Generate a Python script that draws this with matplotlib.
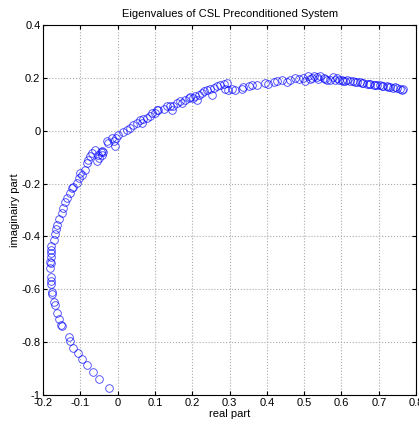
import matplotlib.pyplot as plt

plt.rcParams['font.family'] = ['Liberation Sans', 'DejaVu Sans']

# Eigenvalues (real, imaginary)
real_part = [
    -0.024, -0.050, -0.065, -0.083, -0.096, -0.107, -0.119, -0.128, -0.132,
    -0.149, -0.151, -0.157, -0.162, -0.168, -0.171, -0.175, -0.176, -0.179,
    -0.180, -0.180, -0.181, -0.180, -0.181, -0.180, -0.179, -0.180, -0.178,
    -0.172, -0.168, -0.165, -0.163, -0.157, -0.150, -0.147, -0.141, -0.136,
    -0.128, -0.123, -0.119, -0.110, -0.105, -0.101, -0.096, -0.087, -0.083,
    -0.079, -0.074, -0.069, -0.061, -0.052, -0.045, -0.042, -0.039, -0.056,
    -0.049, -0.043, -0.029, -0.025, -0.016, -0.011, -0.006, -0.007, 0.002,
    0.015, 0.024, 0.033, 0.042, 0.051, 0.060, 0.065, 0.069, 0.078, 0.087,
    0.091, 0.100, 0.105, 0.109, 0.123, 0.131, 0.140, 0.145, 0.149, 0.158,
    0.167, 0.172, 0.181, 0.190, 0.194, 0.203, 0.208, 0.212, 0.217, 0.226,
    0.230, 0.239, 0.248, 0.252, 0.257, 0.266, 0.275, 0.284, 0.288, 0.293,
    0.297, 0.306, 0.315, 0.333, 0.337, 0.351, 0.360, 0.373, 0.395, 0.404,
    0.418, 0.426, 0.440, 0.453, 0.462, 0.476, 0.485, 0.498, 0.511, 0.516,
    0.525, 0.534, 0.543, 0.552, 0.561, 0.569, 0.578, 0.587, 0.592, 0.601,
    0.605, 0.614, 0.623, 0.632, 0.641, 0.650, 0.659, 0.668, 0.677, 0.686,
    0.695, 0.703, 0.712, 0.721, 0.730, 0.739, 0.748, 0.757, 0.766,
    0.503, 0.520, 0.538, 0.556, 0.583, 0.610, 0.637, 0.655, 0.673, 0.691,
    0.708, 0.726, 0.744, 0.762,
]
imag_part = [
    -0.972, -0.938, -0.915, -0.888, -0.865, -0.842, -0.821, -0.795, -0.781,
    -0.740, -0.735, -0.712, -0.691, -0.659, -0.648, -0.617, -0.610, -0.580,
    -0.570, -0.552, -0.520, -0.500, -0.495, -0.476, -0.462, -0.450, -0.436,
    -0.413, -0.391, -0.372, -0.356, -0.335, -0.312, -0.293, -0.268, -0.255,
    -0.236, -0.217, -0.211, -0.198, -0.179, -0.160, -0.167, -0.148, -0.122,
    -0.110, -0.097, -0.084, -0.072, -0.091, -0.080, -0.076, -0.080, -0.116,
    -0.103, -0.090, -0.040, -0.047, -0.027, -0.040, -0.026, -0.057, -0.015,
    -0.003, 0.004, 0.010, 0.023, 0.029, 0.042, 0.029, 0.044, 0.048, 0.057,
    0.067, 0.067, 0.080, 0.077, 0.082, 0.092, 0.095, 0.080, 0.092, 0.105,
    0.111, 0.107, 0.117, 0.124, 0.128, 0.124, 0.133, 0.117, 0.136, 0.143,
    0.149, 0.155, 0.158, 0.136, 0.162, 0.170, 0.174, 0.177, 0.158, 0.181,
    0.155, 0.158, 0.155, 0.158, 0.164, 0.170, 0.173, 0.174, 0.181, 0.178,
    0.183, 0.187, 0.191, 0.183, 0.191, 0.199, 0.196, 0.199, 0.206, 0.196,
    0.208, 0.203, 0.208, 0.199, 0.193, 0.193, 0.203, 0.199, 0.191, 0.193,
    0.187, 0.191, 0.187, 0.187, 0.183, 0.183, 0.181, 0.178, 0.177, 0.174,
    0.173, 0.172, 0.169, 0.168, 0.165, 0.163, 0.162, 0.160, 0.159,
    0.190, 0.201, 0.195, 0.196, 0.193, 0.189, 0.185, 0.182, 0.178, 0.175,
    0.171, 0.167, 0.164, 0.156,
]

fig = plt.figure(figsize=(4.19, 4.26), dpi=100)
ax = fig.add_axes([0.103, 0.073, 0.890, 0.868])
ax.plot(real_part, imag_part, 'o', color='blue', markerfacecolor='none',
        markersize=5.5, markeredgewidth=0.6, alpha=0.75)

ax.set_xlim(-0.2, 0.8)
ax.set_ylim(-1, 0.4)
ax.set_xticks([-0.2, -0.1, 0, 0.1, 0.2, 0.3, 0.4, 0.5, 0.6, 0.7, 0.8])
ax.set_xticklabels(['-0.2', '-0.1', '0', '0.1', '0.2', '0.3', '0.4', '0.5', '0.6', '0.7', '0.8'])
ax.set_yticks([-1, -0.8, -0.6, -0.4, -0.2, 0, 0.2, 0.4])
ax.set_yticklabels(['-1', '-0.8', '-0.6', '-0.4', '-0.2', '0', '0.2', '0.4'])
ax.tick_params(direction='in', length=3, labelsize=8, top=True, right=True, pad=2)
ax.grid(True, linestyle=':', color='#aaaaaa', linewidth=0.8)

ax.set_title('Eigenvalues of CSL Preconditioned System', fontsize=8)
ax.set_xlabel('real part', fontsize=8, labelpad=1)
ax.set_ylabel('imaginairy part', fontsize=8, labelpad=1)

fig.savefig('out.png', dpi=100)
